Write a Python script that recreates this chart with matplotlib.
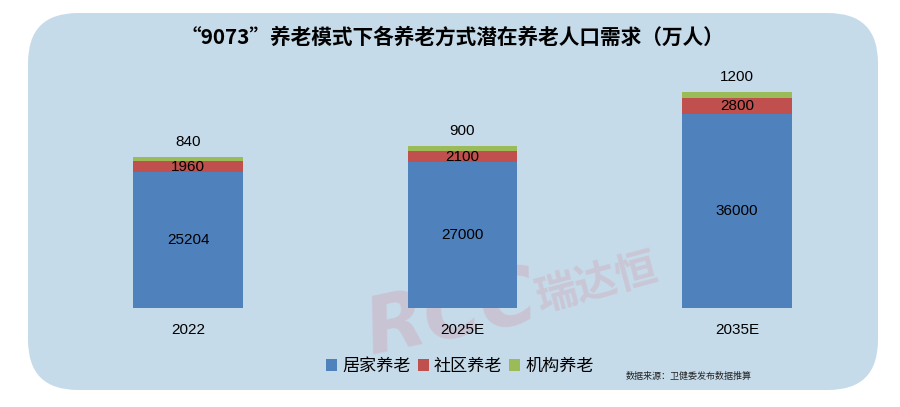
import matplotlib
matplotlib.use("Agg")
import matplotlib.pyplot as plt
from matplotlib.patches import FancyBboxPatch, Patch

plt.rcParams['font.family'] = ['Liberation Sans', 'Noto Sans CJK SC', 'DejaVu Sans']

title = "“9073”养老模式下各养老方式潜在养老人口需求（万人）"
categories = ["2022", "2025E", "2035E"]
series_names = ["居家养老", "社区养老", "机构养老"]
home = [25204, 27000, 36000]
community = [1960, 2100, 2800]
institution = [840, 900, 1200]
source = "数据来源：卫健委发布数据推算"

colors = ["#4f81bd", "#c0504d", "#9bbb59"]
bg = "#c5dbe9"

W, H = 900, 407
fig = plt.figure(figsize=(W / 100, H / 100), dpi=100)
fig.patch.set_facecolor("white")

# background panel in pixel coordinates
bgax = fig.add_axes([0, 0, 1, 1])
bgax.set_xlim(0, W)
bgax.set_ylim(H, 0)
bgax.axis("off")
bgax.add_patch(FancyBboxPatch((28, 13), 850, 377,
                              boxstyle="round,pad=0,rounding_size=50",
                              facecolor=bg, edgecolor="none"))
bgax.text(452, 37, title, ha="center", va="center", fontsize=14.9,
          fontweight="bold", family=["Noto Sans CJK SC", "DejaVu Sans"])
bgax.text(626, 376, source, ha="left", va="center", fontsize=6.5,
          family=["Noto Sans CJK SC", "DejaVu Sans"], color="#222222")

# watermark
wm = (0.85, 0.5, 0.58)
bgax.text(452, 315, "RCC", ha="center", va="center", fontsize=56, fontweight="heavy",
          family=["DejaVu Sans"], fontstyle="italic", color=wm, alpha=0.25,
          rotation=12, zorder=5)
bgax.text(597, 283, "瑞达恒", ha="center", va="center", fontsize=30, fontweight="bold",
          family=["Noto Sans CJK SC"], color=wm, alpha=0.22, rotation=15, zorder=5)

# bar axes
base_px = 308
ymax = 45000
scale = 216 / 40000.0
h_px = ymax * scale
ax = fig.add_axes([51 / W, 1 - base_px / H, 823 / W, h_px / H])
ax.patch.set_alpha(0)
x = list(range(len(categories)))
width = 0.40
ax.bar(x, home, width, color=colors[0], zorder=2)
ax.bar(x, community, width, bottom=home, color=colors[1], zorder=2)
bottom3 = [a + b for a, b in zip(home, community)]
ax.bar(x, institution, width, bottom=bottom3, color=colors[2], zorder=2)

ax.set_xlim(-0.5, 2.5)
ax.set_ylim(0, ymax)
for s in ax.spines.values():
    s.set_visible(False)
ax.set_yticks([])
ax.set_xticks(x)
ax.set_xticklabels(categories, fontsize=11)
ax.tick_params(axis="x", length=0, pad=11)

for i in x:
    ax.text(i, home[i] / 2, str(home[i]), ha="center", va="center", fontsize=11, zorder=3)
    ax.text(i, home[i] + community[i] / 2, str(community[i]), ha="center", va="center",
            fontsize=11, zorder=3)
    top = home[i] + community[i] + institution[i]
    ax.annotate(str(institution[i]), (i, top), xytext=(0, 11), textcoords="offset points",
                ha="center", va="center", fontsize=11)

handles = [Patch(facecolor=c, edgecolor="none") for c in colors]
fig.legend(handles, series_names, loc="center", bbox_to_anchor=(460 / W, 1 - 366 / H),
           ncol=3, frameon=False, handlelength=0.65, handleheight=0.65,
           handletextpad=0.3, columnspacing=0.4,
           prop={"family": ["Noto Sans CJK SC", "DejaVu Sans"], "size": 12.3})

fig.savefig("out.png", dpi=100, facecolor="white")
